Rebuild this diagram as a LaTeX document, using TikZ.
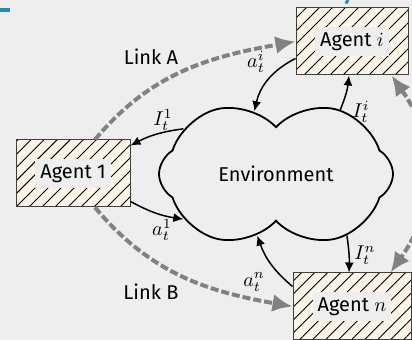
\documentclass[tikz,border=0pt]{standalone}
\usepackage{fontspec}
\setmainfont{Fira Sans}
\usetikzlibrary{shapes.symbols,patterns.meta,arrows.meta}
\definecolor{bggrey}{HTML}{EEEEEE}
\definecolor{cream}{HTML}{FDF4E8}
\definecolor{linkgrey}{HTML}{818181}
\definecolor{barblue}{HTML}{2389BD}

\tikzset{
  agent/.style={draw=black!75, line width=0.5pt, preaction={fill=cream},
    pattern={Lines[angle=45,distance=4.6pt,line width=0.45pt]},
    minimum width=57pt, minimum height=33.5pt},
  agenttext/.style={fill=bggrey, inner sep=2.5pt},
  % turned a quarter, so width and height are swapped
  envcloud/.style={cloud, cloud puffs=6, cloud puff arc=120, cloud ignores aspect,
    rotate=90, draw, line width=0.9pt,
    minimum width=75pt, minimum height=117pt},
  flow/.style={-{Latex[length=5pt,width=4.5pt]}, line width=0.75pt},
  link/.style={linkgrey, line width=2pt, dash pattern=on 4pt off 1.5pt},
  linktip/.style={-{Latex[length=10pt,width=9pt]}},
}

\begin{document}
\begin{tikzpicture}[x=0.5pt,y=0.5pt]
    \fill[bggrey] (0,0) rectangle (412,-340);
    \useasboundingbox (0,0) rectangle (412,-340);
    \clip (0,0) rectangle (412,-340);
    \fill[barblue] (0,-8) rectangle (10,-12);
    \draw[barblue, line width=1.5pt] (346,-3.5) -- (348,0);
    % agents and environment
    \node[agent] (a1) at (73,-173.5) {};
    \node[agenttext] (a1txt) at (a1) {Agent 1};
    \node[agent, minimum width=56pt] (ai) at (352,-41.5) {};
    \node[agenttext] (aitxt) at (ai) {Agent $i$};
    \node[agent, minimum width=59pt] (an) at (352,-306.5) {};
    \node[agenttext] (antxt) at (an) {Agent $n$};
    \node[envcloud] (env) at (276,-174) {};
    \node (envtxt) at (env) {Environment};
    % observations and actions (cloud anchors are 90 less)
    \draw[flow] (env.64) to[bend right=10] ([yshift=-3pt]a1.north east);
    \node (i1) at (163,-120) {$I_t^1$};
    \draw[flow] ([yshift=3pt]a1.south east) to[bend right=10] (env.116);
    \node (act1) at (162,-230) {$a_t^1$};
    \draw[flow] ([yshift=8.5pt]ai.south west) to[bend right=25] (env.19);
    \node (acti) at (256,-62) {$a_t^i$};
    \draw[flow] (env.315) to[bend right=8] ([xshift=-1.5pt]ai.south);
    \node (ii) at (361,-112) {$I_t^i$};
    \draw[flow] ([yshift=-7pt]an.north west) to[bend left=15] (env.163);
    \node (actn) at (254,-282) {$a_t^n$};
    \draw[flow] (env.229) to[bend left=5] ([xshift=-1.5pt]an.north);
    \node (in) at (365,-255) {$I_t^n$};
    % links between agents
    \draw[link, linktip] ([xshift=11pt]a1.north) to[out=50, in=190] (ai.west);
    \node (linka) at (151,-57) {Link A};
    \draw[link, linktip] ([xshift=11pt]a1.south) to[out=-50, in=170] (an.west);
    \node (linkb) at (151,-292) {Link B};
    \draw[link, {Latex[length=10pt,width=9pt]}-{Latex[length=10pt,width=9pt]}]
      ([xshift=-8.5pt]ai.south east) to[out=-55, in=55, looseness=1.1] ([xshift=-10.5pt]an.north east);
\end{tikzpicture}
\end{document}
